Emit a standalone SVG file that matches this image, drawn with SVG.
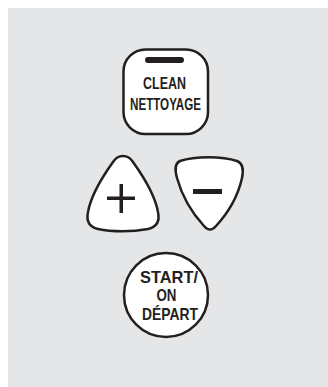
<svg xmlns="http://www.w3.org/2000/svg" width="328" height="387" viewBox="0 0 328 387">
<style>
.btn{fill:#fff;stroke:#231f20;stroke-width:2.5;stroke-linejoin:round}
.lbl{font-family:"Liberation Sans",Arial,sans-serif;font-weight:bold;fill:#231f20;text-anchor:middle}
.ink{fill:#231f20}
</style>
<rect x="0" y="0" width="328" height="387" fill="#fff"/>
<rect x="8" y="8" width="320" height="379" fill="#e5e6e8"/>
<g id="clean">
<rect class="btn" x="123.5" y="49.5" width="84.5" height="84.5" rx="22" ry="22"/>
<rect class="ink" x="145" y="57" width="39" height="6" rx="3" ry="3"/>
<text class="lbl" x="164.5" y="88.5" font-size="17" textLength="43" lengthAdjust="spacingAndGlyphs">CLEAN</text>
<text class="lbl" x="165.5" y="109.5" font-size="17" textLength="71" lengthAdjust="spacingAndGlyphs">NETTOYAGE</text>
</g>
<g id="plus">
<path class="btn" d="M113,162 C118,154 128,154 133,162 C143,176 155,195 158,212 Q161,226 148,229 C132,232 112,232 98,229 Q85,226 88,212 C91,195 103,176 113,162 Z"/>
<rect class="ink" x="107" y="196.5" width="28" height="3.5"/>
<rect class="ink" x="119.5" y="184" width="3.5" height="29"/>
</g>
<g id="minus">
<path class="btn" d="M180,161 C195,156 222,156 237,161 Q245,164 242,178 C238,196 228,213 216,226 Q210,233 204,226 C192,213 182,196 177,178 Q173,164 180,161 Z"/>
<rect class="ink" x="193" y="189" width="29" height="5"/>
</g>
<g id="start">
<circle class="btn" cx="166" cy="295" r="42"/>
<text class="lbl" x="169" y="282.5" font-size="16.5" textLength="58" lengthAdjust="spacingAndGlyphs">START/</text>
<text class="lbl" x="166.5" y="301" font-size="16.5" textLength="20" lengthAdjust="spacingAndGlyphs">ON</text>
<text class="lbl" x="170" y="319.5" font-size="16.5" textLength="56" lengthAdjust="spacingAndGlyphs">DÉPART</text>
</g>
</svg>
